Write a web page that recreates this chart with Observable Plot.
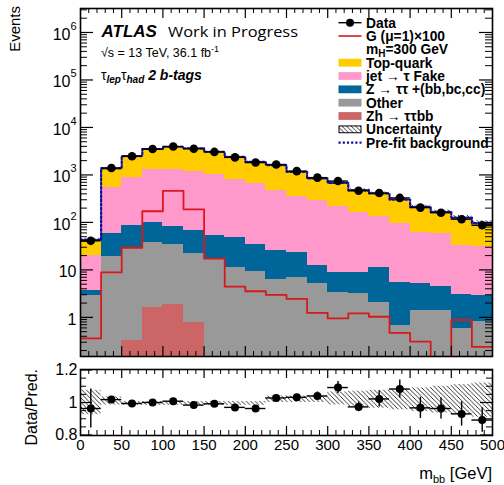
<!DOCTYPE html>
<html><head><meta charset="utf-8">
<script src="https://cdn.jsdelivr.net/npm/d3@7"></script>
<script src="https://cdn.jsdelivr.net/npm/@observablehq/plot@0.6"></script>
<style>
body{margin:0;background:#fff;}
#wrap{position:relative;width:504px;height:485px;font-family:"Liberation Sans",Arial,sans-serif;}
#wrap svg{display:block;}
</style></head><body><div id="wrap"></div>
<script>
// ---------- data ----------
const binLo = [0,25,50,75,100,125,150,175,200,225,250,275,300,325,350,375,400,425,450,475];
const binHi = [25,50,75,100,125,150,175,200,225,250,275,300,325,350,375,400,425,450,475,500];
const zh       = [0,0,0.33,1.65,1.9,0.78,0,0,0,0,0,0,0,0,0,0,0,0,0,0];
const other    = [2.88,19.5,27.6,35.8,32.1,21.7,17.2,11.1,9.25,6.2,6.8,5.08,3.38,3.2,2.07,0.67,1.39,1.39,0.57,0.82];
const ztt      = [0.79,38.5,57.6,62.6,50,45.5,35.8,36.6,24.8,19.5,16.9,7.3,5.5,5.7,9.3,4.8,3.8,3.1,2.4,2.1];
const fake     = [16.3,475,800,1207,1241,1117,951,767,627,435,332,281,210,149,124,88.5,56.6,55.2,29.8,28.1];
const topQuark = [23,839,1610,2206,2601,2445,2074,1599,1231,1149,808,550,461,319,271,209,150,106,93,66];
const dataVals = [41,1397,2480,3513,3957,3572,3053,2342,1822,1655,1201,877,743,464,415,328,205,160,117,87];
const signal   = [0.36,8.9,29.3,172,461,189,17.2,4.46,3.55,2.97,2.45,1.24,0.95,1.22,1.03,0.47,0.31,0,0.88,0.24];
const prefit   = [43,1372,2495,3513,3926,3630,3078,2414,1892,1610,1164,843,680,477,406,303,212,166,126,97];
const ratio    = [0.963,1.018,0.994,1.0,1.008,0.984,0.992,0.97,0.963,1.028,1.032,1.04,1.092,0.973,1.022,1.083,0.967,0.963,0.93,0.892];
const ratioErr = [0.12,0.012,0.01,0.008,0.008,0.008,0.009,0.01,0.012,0.014,0.016,0.025,0.037,0.03,0.05,0.055,0.065,0.065,0.075,0.075];
const uncLo    = [0.925,0.984,0.982,0.982,0.982,0.982,0.982,0.982,0.982,1.0,1.0,1.0,0.985,0.975,0.965,0.955,0.945,0.935,0.925,0.91];
const uncHi    = [1.075,1.034,1.006,1.006,1.006,1.006,1.006,1.006,1.006,1.04,1.04,1.042,1.065,1.07,1.075,1.08,1.09,1.1,1.11,1.12];
const xTickLabels = [0,50,100,150,200,250,300,350,400,450,500];
const yMajor = [1,10,100,1e3,1e4,1e5,1e6];
const rTicks = [0.8,1,1.2];

// ---------- layout ----------
const W = 504, H1 = 362, H2 = 123, ML = 80, MR = 12;
const MT1 = 8, MB1 = 6, MT2 = 7, MB2 = 50;
const FW = W - ML - MR, FH1 = H1 - MT1 - MB1, FH2 = H2 - MT2 - MB2;
const YDOM = [0.15, 3.2e6];
const FONT = "Liberation Sans, Arial, sans-serif";
const floor = 0.01;

const colors = {zh:"#cc6666", other:"#999999", ztt:"#006699", fake:"#ff99cc", top:"#ffcc00"};
const layers = [
  {vals: zh, color: colors.zh},
  {vals: other, color: colors.other},
  {vals: ztt, color: colors.ztt},
  {vals: fake, color: colors.fake},
  {vals: topQuark, color: colors.top}
];
const rects = [];
const rows = binLo.map((lo, i) => {
  let cum = 0;
  layers.forEach(L => {
    const v = L.vals[i];
    if (v > 0) rects.push({lo, hi: binHi[i], y1: Math.max(cum, floor), y2: cum + v, fill: L.color});
    cum += v;
  });
  return {lo, hi: binHi[i], mid: (lo + binHi[i]) / 2, total: cum, data: dataVals[i],
    r: ratio[i], rlo: ratio[i] - ratioErr[i], rhi: ratio[i] + ratioErr[i],
    ulo: uncLo[i], uhi: uncHi[i], blo: cum * uncLo[i], bhi: cum * uncHi[i]};
});
const steps = vals => [...binLo.map((lo, i) => ({x: lo, y: Math.max(vals[i], floor)})), {x: 500, y: Math.max(vals[vals.length-1], floor)}];

// ticks
const yMinor = [];
for (let e = -1; e <= 6; e++) for (let m = 2; m <= 9; m++) { const v = m * Math.pow(10, e); if (v > YDOM[0] && v < YDOM[1]) yMinor.push(v); }
const xMaj = [50,100,150,200,250,300,350,400,450];
const xMin = []; for (let v = 10; v < 500; v += 10) if (v % 50) xMin.push(v);
const rMinor = [0.85,0.9,0.95,1.05,1.1,1.15];

function tickMarksY(maj, min, fh, majL, minL) {
  return [
    Plot.tickY(maj, {y: d => d, insetRight: FW - majL, stroke: "black", strokeWidth: 1.2}),
    Plot.tickY(maj, {y: d => d, insetLeft: FW - majL, stroke: "black", strokeWidth: 1.2}),
    Plot.tickY(min, {y: d => d, insetRight: FW - minL, stroke: "black", strokeWidth: 1}),
    Plot.tickY(min, {y: d => d, insetLeft: FW - minL, stroke: "black", strokeWidth: 1})
  ];
}
function tickMarksX(fh, majL, minL) {
  return [
    Plot.tickX(xMaj, {x: d => d, insetTop: fh - majL, stroke: "black", strokeWidth: 1.2}),
    Plot.tickX(xMaj, {x: d => d, insetBottom: fh - majL, stroke: "black", strokeWidth: 1.2}),
    Plot.tickX(xMin, {x: d => d, insetTop: fh - minL, stroke: "black", strokeWidth: 1}),
    Plot.tickX(xMin, {x: d => d, insetBottom: fh - minL, stroke: "black", strokeWidth: 1})
  ];
}

// ---------- main panel ----------
const main = Plot.plot({
  width: W, height: H1, marginLeft: ML, marginRight: MR, marginTop: MT1, marginBottom: MB1,
  style: {fontFamily: FONT, fontSize: "16px", background: "white"},
  x: {domain: [0, 500], axis: null},
  y: {type: "log", domain: YDOM, axis: null},
  color: {type: "identity"},
  marks: [
    Plot.rect(rects, {x1: "lo", x2: "hi", y1: "y1", y2: "y2", fill: "fill", clip: true, shapeRendering: "crispEdges"}),
    Plot.rect(rows, {x1: "lo", x2: "hi", y1: "blo", y2: "bhi", fill: "url(#hatchMain)", clip: true}),
    Plot.line(steps(signal), {x: "x", y: "y", curve: "step-after", stroke: "#d7191c", strokeWidth: 1.8, clip: true}),
    Plot.line(steps(prefit), {x: "x", y: "y", curve: "step-after", stroke: "#10109a", strokeWidth: 2.2, strokeDasharray: "2.2,2", clip: true}),
    Plot.ruleY(rows, {x1: "lo", x2: "hi", y: "data", stroke: "black", strokeWidth: 1.4}),
    Plot.dot(rows, {x: "mid", y: "data", r: 4.3, fill: "black"}),
    ...tickMarksY(yMajor, yMinor, FH1, 13, 7),
    ...tickMarksX(FH1, 10, 5),
    Plot.frame({stroke: "black", strokeWidth: 1.6}),
    Plot.text(yMajor.filter(v => v >= 100), {y: d => d, text: () => "10", frameAnchor: "left", textAnchor: "end", dx: -10, dy: 2, fontSize: 16}),
    Plot.text(yMajor.filter(v => v >= 100), {y: d => d, text: d => String(Math.round(Math.log10(d))), frameAnchor: "left", textAnchor: "start", dx: -10, dy: -6, fontSize: 11}),
    Plot.text(yMajor.filter(v => v < 100), {y: d => d, text: d => String(d), frameAnchor: "left", textAnchor: "end", dx: -4, dy: 2, fontSize: 16})
  ]
});

// ---------- ratio panel ----------
const rat = Plot.plot({
  width: W, height: H2, marginLeft: ML, marginRight: MR, marginTop: MT2, marginBottom: MB2,
  style: {fontFamily: FONT, fontSize: "16px", background: "white", overflow: "visible"},
  x: {domain: [0, 500], axis: null},
  y: {domain: [0.797, 1.203], axis: null},
  marks: [
    Plot.rect(rows, {x1: "lo", x2: "hi", y1: "ulo", y2: "uhi", fill: "url(#hatchRatio)", clip: true}),
    Plot.ruleY(rows, {x1: "lo", x2: "hi", y: "r", stroke: "black", strokeWidth: 1.4, clip: true}),
    Plot.ruleX(rows, {x: "mid", y1: "rlo", y2: "rhi", stroke: "black", strokeWidth: 1.4, clip: true}),
    Plot.dot(rows, {x: "mid", y: "r", r: 4, fill: "black", clip: true}),
    ...tickMarksY(rTicks, rMinor, FH2, 12, 6),
    ...tickMarksX(FH2, 9, 5),
    Plot.frame({stroke: "black", strokeWidth: 1.6}),
    Plot.axisX({ticks: xTickLabels, tickSize: 0, tickPadding: 4, label: null, fontSize: 15, tickFormat: d => String(d)}),
    Plot.axisY({ticks: rTicks, tickSize: 0, tickPadding: 3, label: null, fontSize: 16, tickFormat: d => String(d)})
  ]
});

const wrap = document.getElementById("wrap");
wrap.appendChild(main);
wrap.appendChild(rat);

// ---------- decorations ----------
function addHatch(svg, id) {
  const defs = d3.select(svg).insert("defs", ":first-child");
  const p = defs.append("pattern").attr("id", id).attr("patternUnits", "userSpaceOnUse").attr("width", 4.5).attr("height", 4.5);
  p.append("path").attr("d", "M-1,-1 L5.5,5.5 M-1,3.5 L1,5.5 M3.5,-1 L5.5,1").attr("stroke", "black").attr("stroke-width", 0.8).attr("fill", "none");
  return defs;
}
const defsMain = addHatch(main, "hatchMain");
addHatch(rat, "hatchRatio");
defsMain.append("clipPath").attr("id", "frameClip").append("rect").attr("x", ML).attr("y", MT1).attr("width", FW).attr("height", FH1);

const sm = d3.select(main), sr = d3.select(rat);
const ann = sm.append("g").attr("text-anchor", "start").attr("font-family", FONT);

// y titles
sm.append("text").attr("transform", "translate(14,6) rotate(-90)").attr("text-anchor", "end")
  .attr("dominant-baseline", "central").attr("font-size", 15).attr("font-family", FONT).text("Events");
sr.append("text").attr("transform", `translate(31,${MT2}) rotate(-90)`).attr("text-anchor", "end")
  .attr("dominant-baseline", "central").attr("font-size", 16).attr("font-family", FONT).text("Data/Pred.");
// x title
const xt = sr.append("text").attr("x", ML + FW).attr("y", 117).attr("text-anchor", "end").attr("font-size", 16.5).attr("font-family", FONT);
xt.append("tspan").text("m");
xt.append("tspan").attr("font-size", 11).attr("dy", 4).text("bb");
xt.append("tspan").attr("dy", -4).text(" [GeV]");

// ATLAS labels
ann.append("text").attr("x", 101.5).attr("y", 36.5).attr("font-size", 17).attr("font-weight", "bold").attr("font-style", "italic").text("ATLAS");
ann.append("text").attr("x", 168).attr("y", 36.5).attr("font-size", 15).attr("font-family", "Open Sans, sans-serif")
  .attr("textLength", 130).attr("lengthAdjust", "spacingAndGlyphs").text("Work in Progress");
const t2 = ann.append("text").attr("x", 101).attr("y", 56.5).attr("font-size", 12.5);
t2.append("tspan").text("\u221As = 13 TeV, 36.1 fb");
t2.append("tspan").attr("font-size", 9).attr("dy", -5).text("-1");
const t3 = ann.append("text").attr("x", 101).attr("y", 79.5).attr("font-size", 14);
t3.append("tspan").text("\u03C4");
t3.append("tspan").attr("font-size", 10).attr("font-weight", "bold").attr("font-style", "italic").attr("dy", 3).text("lep");
t3.append("tspan").attr("dy", -3).text("\u03C4");
t3.append("tspan").attr("font-size", 10).attr("font-weight", "bold").attr("font-style", "italic").attr("dy", 3).text("had");
t3.append("tspan").attr("font-weight", "bold").attr("font-style", "italic").attr("dy", -3).text(" 2 b-tags");

// legend
const lg = sm.append("g").attr("clip-path", "url(#frameClip)").attr("font-family", FONT).attr("font-size", 13.8)
  .attr("font-weight", "bold").attr("text-anchor", "start");
const L0 = 22.7, LD = 13.33, SX1 = 338.5, SX2 = 361.5, TX = 366;
const rowY = k => L0 + LD * k;
const legendItems = [
  {type: "data", label: "Data"},
  {type: "line", color: "#d7191c", label: "G (\u03BC=1)\u00D7100"},
  {type: "mh"},
  {type: "box", color: colors.top, label: "Top-quark"},
  {type: "box", color: colors.fake, label: "jet \u2192 \u03C4 Fake"},
  {type: "box", color: colors.ztt, label: "Z \u2192 \u03C4\u03C4 +(bb,bc,cc)"},
  {type: "box", color: colors.other, label: "Other"},
  {type: "box", color: colors.zh, label: "Zh \u2192 \u03C4\u03C4bb"},
  {type: "hatch", label: "Uncertainty"},
  {type: "dots", label: "Pre-fit background"}
];
legendItems.forEach((it, k) => {
  const y = rowY(k);
  if (it.type === "data") {
    lg.append("line").attr("x1", SX1).attr("x2", SX2).attr("y1", y).attr("y2", y).attr("stroke", "black").attr("stroke-width", 1.4);
    lg.append("circle").attr("cx", (SX1 + SX2) / 2).attr("cy", y).attr("r", 4).attr("fill", "black");
  } else if (it.type === "line") {
    lg.append("line").attr("x1", SX1).attr("x2", SX2).attr("y1", y).attr("y2", y).attr("stroke", it.color).attr("stroke-width", 1.6);
  } else if (it.type === "box") {
    lg.append("rect").attr("x", SX1).attr("y", y - 3.9).attr("width", SX2 - SX1).attr("height", 7.8).attr("fill", it.color);
  } else if (it.type === "hatch") {
    lg.append("rect").attr("x", SX1 + 0.5).attr("y", y - 3.4).attr("width", SX2 - SX1 - 1).attr("height", 6.8).attr("fill", "url(#hatchMain)").attr("stroke", "black").attr("stroke-width", 1);
  } else if (it.type === "dots") {
    lg.append("line").attr("x1", SX1).attr("x2", SX2).attr("y1", y).attr("y2", y).attr("stroke", "#10109a").attr("stroke-width", 2.2).attr("stroke-dasharray", "2.2,2");
  }
  if (it.type === "mh") {
    const t = lg.append("text").attr("x", TX).attr("y", y + 5);
    t.append("tspan").text("m");
    t.append("tspan").attr("font-size", 10).attr("dy", 3).text("H");
    t.append("tspan").attr("dy", -3).text("=300 GeV");
  } else {
    lg.append("text").attr("x", TX).attr("y", y + 5).text(it.label);
  }
});
</script>
</body></html>
